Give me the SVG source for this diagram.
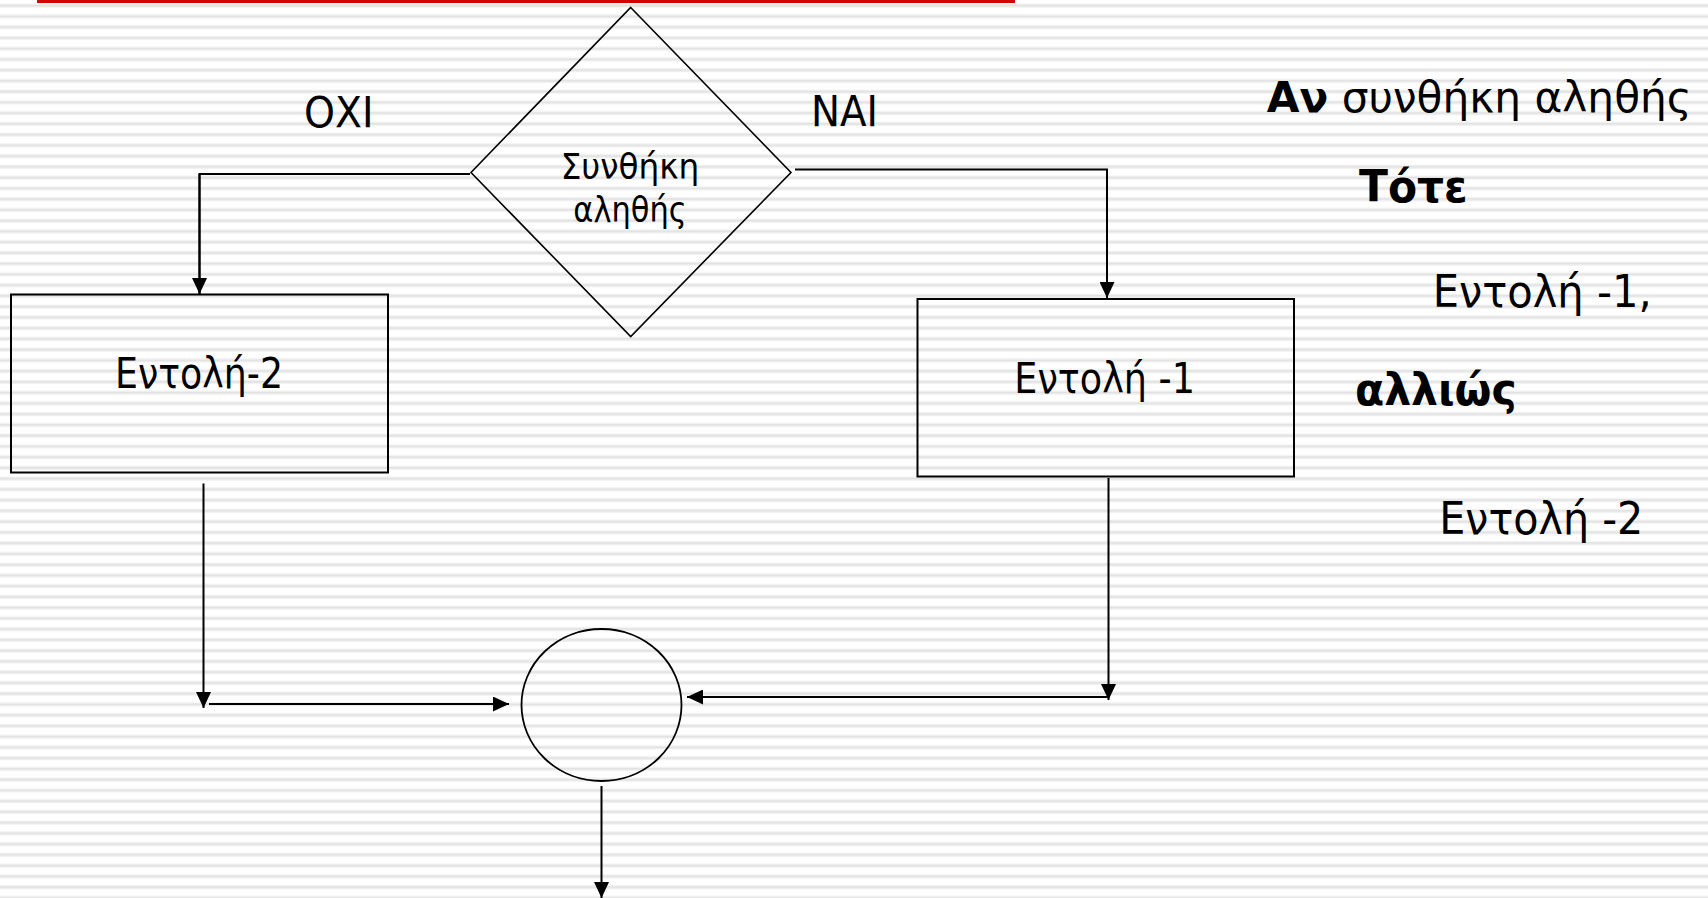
<svg xmlns="http://www.w3.org/2000/svg" width="1708" height="898" viewBox="0 0 1708 898">
  <defs>
    <!-- fine horizontal line pattern for the slide background -->
    <pattern id="stripes" patternUnits="userSpaceOnUse" x="0" y="0" width="20" height="10.75">
      <rect x="0" y="0" width="20" height="10.75" fill="#ffffff"/>
      <rect x="0" y="3.6" width="20" height="1" fill="#f1f1f1"/>
      <rect x="0" y="4.6" width="20" height="2" fill="#e1e1e1"/>
      <rect x="0" y="6.6" width="20" height="1" fill="#efefef"/>
    </pattern>
    <marker id="arrow" viewBox="0 0 16 15" refX="16" refY="7.5" markerWidth="16" markerHeight="15" markerUnits="userSpaceOnUse" orient="auto">
      <path d="M0,0 L16,7.5 L0,15 Z" fill="#000"/>
    </marker>
    <style>
      .shape { fill: none; stroke: #000; }
      .conn { fill: none; stroke: #000; stroke-width: 2; }
      .txt { font-family: "DejaVu Sans", "Liberation Sans", sans-serif; fill: #000; }
      .b { font-weight: bold; }
      .code { font-size: 45px; }
    </style>
  </defs>

  <!-- background -->
  <rect x="0" y="0" width="1708" height="898" fill="url(#stripes)"/>

  <!-- title accent bar -->
  <rect id="title-bar" x="37" y="0" width="978" height="3" fill="#d40000"/>

  <!-- decision -->
  <g id="decision">
    <polygon class="shape" stroke-width="1.6" points="630.7,7.5 791,172.5 630.7,336.5 471,172.5"/>
    <text class="txt" x="630" y="179.3" font-size="36" text-anchor="middle" textLength="138.7" lengthAdjust="spacingAndGlyphs">Συνθήκη</text>
    <text class="txt" x="630" y="221.7" font-size="36" text-anchor="middle" textLength="113.3" lengthAdjust="spacingAndGlyphs">αληθής</text>
  </g>

  <!-- branch labels -->
  <g id="label-no">
    <text class="txt" x="304" y="126.7" font-size="43.5" textLength="69.5" lengthAdjust="spacingAndGlyphs">ΟΧΙ</text>
  </g>
  <g id="label-yes">
    <text class="txt" x="811" y="126.3" font-size="43.5" textLength="67" lengthAdjust="spacingAndGlyphs">ΝΑΙ</text>
  </g>

  <!-- statement boxes -->
  <g id="stmt-2">
    <rect class="shape" stroke-width="2" x="11" y="294.5" width="377" height="178"/>
    <text class="txt" x="115" y="388.3" font-size="43.5" textLength="168" lengthAdjust="spacingAndGlyphs">Εντολή-2</text>
  </g>
  <g id="stmt-1">
    <rect class="shape" stroke-width="2" x="917.5" y="299" width="376.5" height="177.5"/>
    <text class="txt" x="1014.3" y="392.7" font-size="43.5" textLength="180.7" lengthAdjust="spacingAndGlyphs">Εντολή -1</text>
  </g>

  <!-- junction -->
  <g id="junction">
    <ellipse class="shape" stroke-width="1.8" cx="601.5" cy="705" rx="80" ry="76"/>
  </g>

  <!-- connectors -->
  <g id="connectors">
    <path class="conn" d="M470,174 H199.5 V294"/>
    <path class="conn" d="M795,169.5 H1107 V298" marker-end="url(#arrow)"/>
    <path class="conn" d="M199.5,174 V294" marker-end="url(#arrow)"/>
    <path class="conn" d="M203.5,483.5 V708" marker-end="url(#arrow)"/>
    <path class="conn" d="M209,704 H509" marker-end="url(#arrow)"/>
    <path class="conn" d="M1108.5,478 V700" marker-end="url(#arrow)"/>
    <path class="conn" d="M1108,697 H687" marker-end="url(#arrow)"/>
    <path class="conn" d="M601.5,786 V898" marker-end="url(#arrow)"/>
  </g>

  <!-- pseudocode -->
  <g id="pseudocode">
    <text class="txt" x="1266.7" y="111.7" font-size="43" textLength="425" lengthAdjust="spacingAndGlyphs"><tspan class="b">Αν</tspan> συνθήκη αληθής</text>
    <text class="txt code b" x="1359" y="202" textLength="108.7" lengthAdjust="spacingAndGlyphs">Τότε</text>
    <text class="txt code" x="1432.7" y="307.3" textLength="219" lengthAdjust="spacingAndGlyphs">Εντολή -1,</text>
    <text class="txt code b" x="1355" y="405" textLength="161.7" lengthAdjust="spacingAndGlyphs">αλλιώς</text>
    <text class="txt code" x="1439.3" y="534" textLength="204" lengthAdjust="spacingAndGlyphs">Εντολή -2</text>
  </g>
</svg>
